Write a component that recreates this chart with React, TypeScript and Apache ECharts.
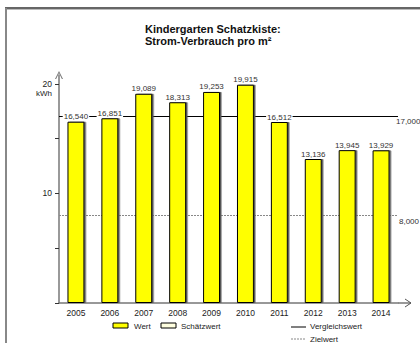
import React, { useEffect, useRef } from "react";
import * as echarts from "echarts";

const years = ["2005", "2006", "2007", "2008", "2009", "2010", "2011", "2012", "2013", "2014"];
const wert = [16.54, 16.851, 19.089, 18.313, 19.253, 19.915, 16.512, 13.136, 13.945, 13.929];
const vergleichswert = 17;
const zielwert = 8;
const yLabels = [10, 20];

const fmt = (v: number) => v.toFixed(3).replace(".", ",");
const FONT = "Liberation Sans, Arial, sans-serif";

export default function App() {
  const ref = useRef<HTMLDivElement>(null);
  useEffect(() => {
    document.body.style.margin = "0";
    const chart = echarts.init(ref.current!, null, { renderer: "svg" });
    const gridLeft = 59;
    const gridTop = 75;
    const gridRight = 22;
    const gridBottom = 40;
    const axisY = 343 - gridBottom;
    const axisEnd = 420 - gridRight;
    chart.setOption({
      animation: false,
      backgroundColor: "#fff",
      textStyle: { fontFamily: FONT },
      title: {
        text: "Kindergarten Schatzkiste:\nStrom-Verbrauch pro m²",
        left: 140,
        top: 18,
        textStyle: { fontSize: 11, fontWeight: "bold", color: "#111", lineHeight: 12, fontFamily: FONT },
      },
      grid: { left: gridLeft, top: gridTop, right: gridRight, bottom: gridBottom },
      xAxis: {
        type: "category",
        data: years,
        axisLine: { lineStyle: { color: "#777", width: 1.5 } },
        axisTick: { alignWithLabel: true, length: 4, lineStyle: { color: "#333" } },
        axisLabel: { fontSize: 8.5, color: "#222", margin: 5, fontFamily: FONT },
      },
      yAxis: {
        type: "value",
        min: 0,
        max: 20.8,
        interval: 5,
        splitLine: { show: false },
        axisLine: {
          show: true,
          lineStyle: { color: "#777", width: 1.5 },
          symbol: ["none", "path://M0,10 L5,0 L10,10 L8.6,10 L5,2.6 L1.4,10 Z"],
          symbolSize: [8, 9],
        },
        axisTick: { show: true, length: 4, lineStyle: { color: "#333" } },
        axisLabel: {
          fontSize: 8.5,
          color: "#222",
          margin: 7,
          showMaxLabel: false,
          fontFamily: FONT,
          formatter: (v: number) => (yLabels.includes(v) ? String(v) : ""),
        },
      },
      series: [
        {
          name: "Wert",
          type: "bar",
          data: wert,
          barWidth: "50%",
          itemStyle: {
            color: "#FFFF00",
            borderColor: "#000",
            borderWidth: 1,
            shadowColor: "#555",
            shadowOffsetX: 1.5,
            shadowOffsetY: 0,
            shadowBlur: 0,
          },
          label: {
            show: true,
            position: "top",
            distance: 1,
            fontSize: 8,
            color: "#333",
            backgroundColor: "#fff",
            padding: [0, 1],
            fontFamily: FONT,
            formatter: (p: any) => fmt(p.value),
          },
          z: 3,
          markLine: {
            silent: true,
            symbol: "none",
            z: 2,
            data: [
              {
                yAxis: vergleichswert,
                lineStyle: { color: "#000", width: 1, type: "solid" },
                label: {
                  show: true,
                  position: "end",
                  distance: 0,
                  offset: [-2, 5],
                  fontSize: 8,
                  color: "#333",
                  fontFamily: FONT,
                  formatter: () => fmt(vergleichswert),
                },
              },
              {
                yAxis: zielwert,
                lineStyle: { color: "#888", width: 1, type: [2, 1] },
                label: {
                  show: true,
                  position: "end",
                  distance: 0,
                  offset: [1, 6],
                  fontSize: 8,
                  color: "#333",
                  fontFamily: FONT,
                  formatter: () => fmt(zielwert),
                },
              },
            ],
          },
        },
      ],
      graphic: [
        { type: "line", shape: { x1: 5, y1: 8, x2: 420, y2: 8 }, style: { stroke: "#333", lineWidth: 1.5 } },
        { type: "line", shape: { x1: 5, y1: 9.5, x2: 420, y2: 9.5 }, style: { stroke: "#bbb", lineWidth: 1 } },
        { type: "line", shape: { x1: 6, y1: 8, x2: 6, y2: 343 }, style: { stroke: "#888", lineWidth: 2 } },
        { type: "line", shape: { x1: axisEnd, y1: axisY, x2: 411, y2: axisY }, style: { stroke: "#777", lineWidth: 1.5 } },
        { type: "polyline", shape: { points: [[405, axisY - 4], [411, axisY], [405, axisY + 4]] }, style: { stroke: "#555", lineWidth: 1, fill: "none" } },
        { type: "text", style: { text: "kWh", x: 52, y: 93, textAlign: "right", textVerticalAlign: "middle", font: `8px ${FONT}`, fill: "#222" } },
        { type: "rect", shape: { x: 113, y: 323, width: 15, height: 5 }, style: { fill: "#FFFF00", stroke: "#000", lineWidth: 1 } },
        { type: "text", style: { text: "Wert", x: 134, y: 326, textVerticalAlign: "middle", font: `8px ${FONT}`, fill: "#222" } },
        { type: "rect", shape: { x: 161, y: 323, width: 15, height: 5 }, style: { fill: "#FFFFE0", stroke: "#000", lineWidth: 1 } },
        { type: "text", style: { text: "Schätzwert", x: 181, y: 326, textVerticalAlign: "middle", font: `8px ${FONT}`, fill: "#222" } },
        { type: "line", shape: { x1: 291, y1: 327, x2: 306, y2: 327 }, style: { stroke: "#000", lineWidth: 1 } },
        { type: "text", style: { text: "Vergleichswert", x: 310, y: 326, textVerticalAlign: "middle", font: `8px ${FONT}`, fill: "#222" } },
        { type: "line", shape: { x1: 291, y1: 339, x2: 306, y2: 339 }, style: { stroke: "#888", lineWidth: 1, lineDash: [2, 1] } },
        { type: "text", style: { text: "Zielwert", x: 310, y: 339, textVerticalAlign: "middle", font: `8px ${FONT}`, fill: "#222" } },
      ],
    });
    return () => chart.dispose();
  }, []);
  return <div ref={ref} style={{ width: 420, height: 343 }} />;
}
